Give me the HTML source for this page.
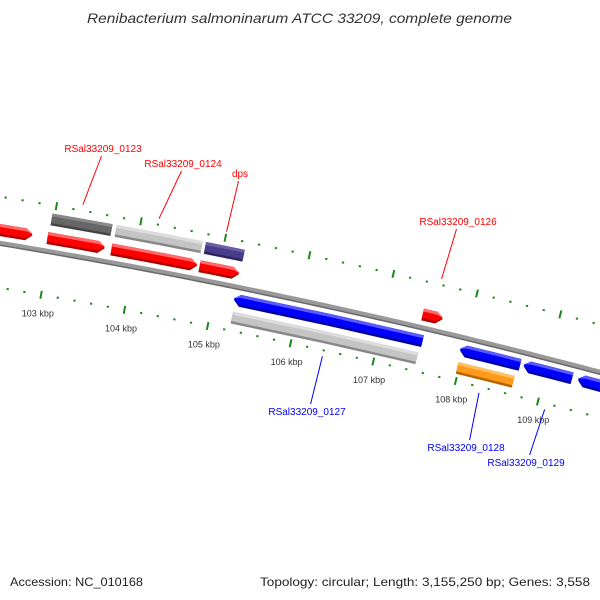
<!DOCTYPE html>
<html><head><meta charset="utf-8"><style>
body{margin:0;background:#fff}
svg{display:block}
text{font-family:"Liberation Sans","DejaVu Sans",sans-serif}
</style></head><body>
<svg id="map" width="600" height="600" viewBox="0 0 600 600" xmlns="http://www.w3.org/2000/svg">
<rect width="600" height="600" fill="#fff"/>
<text x="87" y="23" textLength="425" lengthAdjust="spacingAndGlyphs" font-size="14" font-style="italic" fill="#333">Renibacterium salmoninarum ATCC 33209, complete genome</text>
<g id="ticks"></g>
<g id="backbone"></g>
<g id="features"></g>
<g id="labels"></g>
<text x="10" y="586" textLength="133" lengthAdjust="spacingAndGlyphs" font-size="12" fill="#222">Accession: NC_010168</text>
<text x="260" y="586" textLength="330" lengthAdjust="spacingAndGlyphs" font-size="12" fill="#222">Topology: circular; Length: 3,155,250 bp; Genes: 3,558</text>
</svg>
<script>
// feature data (kbp)
const featStart = [102.2, 102.97, 102.96, 103.73, 103.72, 104.79, 104.77, 105.24, 105.26, 107.44, 107.96, 107.98, 108.73, 109.39];
const featEnd   = [102.78,103.68, 103.64, 104.75, 104.74, 105.25, 105.24, 107.51, 107.49, 107.68, 108.69, 108.66, 109.32, 110.3];
const featRow   = ['fwd','fwdOuter','fwd','fwdOuter','fwd','fwdOuter','fwd','rev','revOuter','fwd','rev','revOuter','rev','rev'];
const featColor = ['red','darkgray','red','lightgray','red','purple','red','blue','lightgray','red','blue','orange','blue','blue'];
const tickMajor = [102,103,104,105,106,107,108,109,110];
const tickLabels = ['102 kbp','103 kbp','104 kbp','105 kbp','106 kbp','107 kbp','108 kbp','109 kbp','110 kbp'];
const labelText = ['RSal33209_0123','RSal33209_0124','dps','RSal33209_0126','RSal33209_0127','RSal33209_0128','RSal33209_0129'];
const labelFeatPos = [103.3, 104.2, 105.0, 107.56, 106.4, 108.3, 109.1];
const labelStrand = ['fwd','fwd','fwd','fwd','rev','rev','rev'];

const NS='http://www.w3.org/2000/svg';
const cx=-1049, cy=6581, R=6424, th0=0.1717, dth=0.01328;
function pt(k,r){const t=th0+(k-103)*dth;return [cx+r*Math.sin(t), cy-r*Math.cos(t)];}
function mk(tag,attrs,parent){const e=document.createElementNS(NS,tag);for(const a in attrs)e.setAttribute(a,attrs[a]);parent.appendChild(e);return e;}
const P=a=>a.map(p=>p[0].toFixed(2)+','+p[1].toFixed(2)).join(' ');

// ticks
const tg=document.getElementById('ticks');
for(let i=0;i<=45;i++){
  const k=101.8+i*0.2; const major=Math.abs(k-Math.round(k))<0.01;
  [[R+46,1],[R-44,-1]].forEach(([r,s])=>{
    const a=pt(k,major?r-4:r-1), b=pt(k,major?r+4:r+1);
    const l=mk('line',{x1:a[0],y1:a[1],x2:b[0],y2:b[1],stroke:'#1a8a1a','stroke-width':major?2:2.2},tg);
    
    
  });
}
tickMajor.forEach((k,i)=>{
  const p=pt(k,R-63);
  const t=mk('text',{x:p[0],y:p[1]+3,'text-anchor':'middle','font-size':'9',fill:'#333'},tg);
  t.textContent=tickLabels[i];
  
  
});

// backbone
const bg=document.getElementById('backbone');
let bp=[];for(let k=101.5;k<=110.8;k+=0.1)bp.push(pt(k,R));
let bp2=[];for(let k=101.5;k<=110.8;k+=0.1)bp2.push(pt(k,R-2));
const b1=mk('polyline',{points:P(bp),fill:'none',stroke:'#999','stroke-width':5},bg);


const b2=mk('polyline',{points:P(bp2),fill:'none',stroke:'#6a6a6a','stroke-width':1.5},bg);



// features
const rows={fwd:[R+7,R+19],fwdOuter:[R+26,R+38],rev:[R-19,R-7],revOuter:[R-37,R-25]};
const cols={red:['#ff0000','#ff6a6a','#b00000'],darkgray:['#666','#888','#444'],lightgray:['#c4c4c4','#dcdcdc','#888'],purple:['#483d8b','#6a5fab','#2e2660'],blue:['#0000ff','#5a5aff','#0000a0'],orange:['#ff9a1a','#ffc060','#b86400']};
const fg=document.getElementById('features');
const AL=0.075;
featStart.forEach((s,i)=>{
  const e=featEnd[i], row=featRow[i], [r0,r1]=rows[row], c=cols[featColor[i]];
  const arrow=(row==='fwd'||row==='rev'), fwd=row==='fwd', rm=(r0+r1)/2;
  function shape(a,b,tipR){
    let pts=[];
    if(arrow&&fwd){const be=e-AL;pts=[pt(s,a),pt((s+be)/2,a),pt(be,a),pt(e,tipR),pt(be,b),pt((s+be)/2,b),pt(s,b)];}
    else if(arrow){const bs=s+AL;pts=[pt(s,tipR),pt(bs,a),pt((bs+e)/2,a),pt(e,a),pt(e,b),pt((bs+e)/2,b),pt(bs,b)];}
    else pts=[pt(s,a),pt((s+e)/2,a),pt(e,a),pt(e,b),pt((s+e)/2,b),pt(s,b)];
    return P(pts);
  }
  const g=mk('g',{},fg);
  
  
  mk('polygon',{points:shape(r0,r1,rm),fill:c[2]},g);
  mk('polygon',{points:shape(r0+2.5,r1,rm+1.2),fill:c[0]},g);
  mk('polygon',{points:shape(r1-3,r1,rm+1.5),fill:c[1]},g);
});

// labels
const lg=document.getElementById('labels');
const labelXY=[[103,152],[183,167],[240,177],[458,225],[307,415],[466,451],[526,466]];
labelText.forEach((txt,i)=>{
  const fwd=labelStrand[i]==='fwd', col=fwd?'#ff0000':'#0000ff';
  const a=pt(labelFeatPos[i], fwd?R+52:R-50);
  const [lx,ly]=labelXY[i];
  const l=mk('line',{x1:a[0],y1:a[1],x2:lx-(fwd?5:-12)*0.3,y2:fwd?ly+4:ly-11,stroke:col,'stroke-width':1},lg);
  
  
  const t=mk('text',{x:lx,y:ly,'text-anchor':'middle','font-size':'10',fill:col},lg);
  t.textContent=txt;
  
  
});
</script>
</body></html>
